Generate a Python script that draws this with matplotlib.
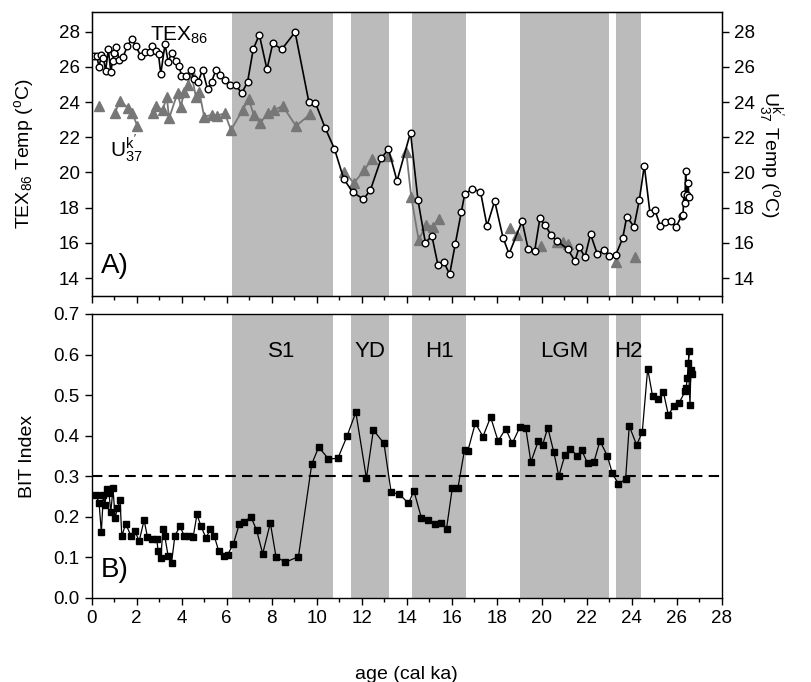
import numpy as np
import matplotlib
matplotlib.use("Agg")
import matplotlib.pyplot as plt
from matplotlib.ticker import MultipleLocator

plt.rcParams['font.family'] = ['Liberation Sans', 'DejaVu Sans']
plt.rcParams['mathtext.fontset'] = 'custom'
plt.rcParams['mathtext.rm'] = 'Liberation Sans'
plt.rcParams['mathtext.it'] = 'Liberation Sans'

# TEX86 temperature (age ka, degC)
tex_age = [0.10, 0.22, 0.33, 0.43, 0.52, 0.62, 0.74, 0.85, 0.93, 0.99, 1.10, 1.22, 1.39, 1.59,
           1.78, 1.96, 2.18, 2.37, 2.58, 2.70, 2.85, 2.97, 3.07, 3.26, 3.40, 3.55, 3.74, 3.89,
           3.99, 4.19, 4.41, 4.56, 4.73, 4.93, 5.15, 5.33, 5.52, 5.71, 5.92, 6.16, 6.41, 6.67,
           6.93, 7.18, 7.45, 7.79, 8.05, 8.45, 9.04, 9.65, 9.94, 10.37, 10.79, 11.21, 11.61,
           12.08, 12.39, 12.87, 13.19, 13.57, 14.17, 14.50, 14.83, 15.12, 15.39, 15.64, 15.91,
           16.16, 16.43, 16.58, 16.91, 17.28, 17.57, 17.91, 18.28, 18.55, 19.13, 19.40, 19.69,
           19.92, 20.14, 20.41, 20.66, 21.15, 21.48, 21.67, 21.92, 22.17, 22.47, 22.78, 23.00,
           23.29, 23.60, 23.78, 24.10, 24.34, 24.56, 24.81, 25.03, 25.27, 25.50, 25.73, 25.97,
           26.22, 26.28, 26.32, 26.36, 26.40, 26.46, 26.50, 26.55]
tex_temp = [26.62, 26.62, 26.01, 26.68, 26.51, 25.78, 27.00, 25.71, 26.35, 26.77, 27.11, 26.39,
            26.55, 27.19, 27.57, 27.19, 26.62, 26.86, 26.86, 27.19, 26.90, 26.72, 25.60, 27.30,
            26.28, 26.77, 26.35, 26.05, 25.48, 25.48, 25.82, 25.30, 25.16, 25.82, 24.73, 25.16,
            25.82, 25.54, 25.26, 24.97, 24.95, 24.50, 25.16, 27.00, 27.83, 25.86, 27.34, 27.00,
            27.98, 24.02, 23.97, 22.55, 21.34, 19.61, 18.87, 18.48, 19.01, 20.81, 21.32, 19.52,
            22.27, 18.44, 16.01, 16.39, 14.74, 14.93, 14.22, 15.94, 17.77, 18.78, 19.05, 18.91,
            16.96, 18.38, 16.30, 15.37, 17.24, 15.63, 15.56, 17.40, 17.02, 16.47, 16.13, 15.65,
            14.97, 15.78, 15.18, 16.49, 15.37, 15.60, 15.26, 15.31, 16.26, 17.49, 16.92, 18.44,
            20.39, 17.72, 17.87, 16.96, 17.20, 17.24, 16.90, 17.55, 17.60, 18.75, 18.25, 20.10,
            18.70, 19.40, 18.60]

# UK'37 temperature (age ka, degC)
uk_age = [0.33, 1.04, 1.25, 1.63, 1.81, 2.03, 2.73, 2.85, 3.15, 3.34, 3.44, 3.82, 3.96, 4.11,
          4.26, 4.41, 4.63, 4.78, 5.00, 5.33, 5.57, 5.92, 6.19, 6.71, 6.98, 7.20, 7.49, 7.82,
          8.12, 8.49, 9.08, 9.71, 11.23, 11.65, 12.12, 12.45, 13.19, 13.98, 14.20, 14.53,
          14.87, 15.17, 15.42, 18.58, 18.91, 19.95, 20.66, 20.93, 21.18, 23.30, 24.15]
uk_temp = [23.78, 23.40, 24.08, 23.65, 23.36, 22.64, 23.36, 23.78, 23.55, 24.27, 23.08, 24.53,
           23.74, 24.59, 24.97, 25.73, 24.31, 24.59, 23.17, 23.27, 23.23, 23.36, 22.41, 23.55,
           24.19, 23.27, 22.80, 23.36, 23.55, 23.78, 22.64, 23.31, 20.05, 19.39, 20.14, 20.77,
           20.95, 21.18, 18.63, 16.17, 17.02, 16.92, 17.34, 16.83, 16.45, 15.84, 16.07, 16.05,
           15.92, 14.93, 15.22]

# BIT index
bit_age = [0.18, 0.33, 0.43, 0.52, 0.59, 0.67, 0.77, 0.85, 0.95, 1.04, 1.14, 1.26, 1.34, 1.51,
           1.74, 1.93, 2.11, 2.33, 2.48, 2.70, 2.89, 2.95, 3.07, 3.17, 3.25, 3.40, 3.55, 3.70,
           3.93, 4.11, 4.33, 4.51, 4.68, 4.85, 5.08, 5.27, 5.45, 5.64, 5.86, 6.04, 6.29, 6.56,
           6.78, 7.08, 7.33, 7.60, 7.94, 8.19, 8.61, 9.19, 9.78, 10.09, 10.52, 10.94, 11.35,
           11.74, 12.21, 12.52, 12.99, 13.31, 13.68, 14.08, 14.32, 14.65, 14.95, 15.24, 15.51,
           15.77, 16.03, 16.28, 16.57, 16.72, 17.05, 17.39, 17.73, 18.06, 18.40, 18.69, 19.03,
           19.29, 19.52, 19.85, 20.04, 20.27, 20.54, 20.76, 21.03, 21.28, 21.59, 21.77, 22.04,
           22.32, 22.59, 22.92, 23.14, 23.41, 23.73, 23.89, 24.22, 24.47, 24.71, 24.93, 25.19,
           25.41, 25.63, 25.88, 26.10, 26.37, 26.42, 26.47, 26.55, 26.52, 26.59, 26.63, 26.66]
bit_val = [0.255, 0.233, 0.162, 0.255, 0.230, 0.268, 0.258, 0.212, 0.270, 0.196, 0.221, 0.241,
           0.152, 0.183, 0.154, 0.164, 0.140, 0.192, 0.150, 0.146, 0.146, 0.117, 0.098, 0.169,
           0.152, 0.103, 0.087, 0.154, 0.177, 0.153, 0.152, 0.150, 0.206, 0.178, 0.148, 0.169,
           0.152, 0.117, 0.103, 0.107, 0.132, 0.182, 0.188, 0.200, 0.167, 0.109, 0.185, 0.102,
           0.088, 0.102, 0.330, 0.372, 0.343, 0.344, 0.399, 0.458, 0.295, 0.414, 0.381, 0.260,
           0.256, 0.233, 0.264, 0.198, 0.193, 0.182, 0.185, 0.171, 0.272, 0.272, 0.365, 0.363,
           0.431, 0.398, 0.446, 0.387, 0.417, 0.381, 0.421, 0.419, 0.335, 0.387, 0.377, 0.420,
           0.359, 0.300, 0.352, 0.367, 0.350, 0.365, 0.332, 0.335, 0.387, 0.350, 0.307, 0.281,
           0.293, 0.424, 0.377, 0.409, 0.565, 0.497, 0.491, 0.507, 0.451, 0.474, 0.480, 0.509,
           0.518, 0.542, 0.610, 0.578, 0.476, 0.561, 0.553]

# climate events (start, end, label)
ev_start = [6.22, 11.52, 14.25, 19.04, 23.30]
ev_end = [10.71, 13.23, 16.64, 23.00, 24.40]
ev_label = ["S1", "YD", "H1", "LGM", "H2"]

shade = "#bbbbbb"

fig = plt.figure(figsize=(8.12, 6.82), dpi=100)
ax1 = fig.add_axes([0.1129, 0.566, 0.7759, 0.4164])
ax2 = fig.add_axes([0.1129, 0.1232, 0.7759, 0.4164])

for a in (ax1, ax2):
    for s, e in zip(ev_start, ev_end):
        a.axvspan(s, e, color=shade, lw=0, zorder=0)
    a.set_xlim(0, 28)
    a.xaxis.set_major_locator(MultipleLocator(2))
    a.xaxis.set_minor_locator(MultipleLocator(1))
    a.tick_params(direction='out', labelsize=13.5, length=5, width=1)
    a.tick_params(which='minor', direction='out', length=3, width=1)
    for sp in a.spines.values():
        sp.set_linewidth(1)

# UK37: break the line where gaps are large
uk_a = np.array(uk_age)
uk_t = np.array(uk_temp)
xs, ys = [uk_a[0]], [uk_t[0]]
for i in range(1, len(uk_a)):
    if uk_a[i] - uk_a[i - 1] > 0.65:
        xs.append(np.nan)
        ys.append(np.nan)
    xs.append(uk_a[i])
    ys.append(uk_t[i])
ax1.plot(xs, ys, color="#777777", lw=1.3, zorder=2)
ax1.plot(uk_a, uk_t, '^', color="#777777", ms=7, mec="#777777", zorder=2)

ax1.plot(tex_age, tex_temp, '-', color='black', lw=1.2, zorder=3)
ax1.plot(tex_age, tex_temp, 'o', mfc='white', mec='black', ms=4.8, mew=1, zorder=4)

ax1.set_ylim(12.98, 29.12)
ax1.yaxis.set_major_locator(MultipleLocator(2))
ax1.tick_params(axis='x', which='both', labelbottom=False)
ax1.set_ylabel("TEX$_{86}$ Temp ($^o$C)", fontsize=14)
ax1.yaxis.set_label_coords(-0.088, 0.5)

ax1r = ax1.twinx()
ax1r.set_ylim(ax1.get_ylim())
ax1r.yaxis.set_major_locator(MultipleLocator(2))
ax1r.tick_params(direction='out', labelsize=13.5, length=5, width=1)
ax1r.set_ylabel("U$^{k'}_{37}$ Temp ($^o$C)", fontsize=14, rotation=270, labelpad=22)

ax1.text(2.6, 27.5, "TEX$_{86}$", fontsize=15, ha='left', va='baseline')
ax1.text(0.8, 20.9, "U$^{k'}_{37}$", fontsize=15, ha='left', va='baseline')
ax1.text(0.4, 14.7, "A)", fontsize=20, ha='left', va='center')

ax2.plot(bit_age, bit_val, '-', color='black', lw=0.9, zorder=3)
ax2.plot(bit_age, bit_val, 's', color='black', ms=3.8, zorder=4)
ax2.axhline(0.3, color='black', ls=(0, (5, 3)), lw=1.5, zorder=2)
ax2.set_ylim(0, 0.7)
ax2.yaxis.set_major_locator(MultipleLocator(0.1))
ax2.yaxis.set_major_formatter(plt.FormatStrFormatter('%.1f'))
ax2.set_ylabel("BIT Index", fontsize=14)
ax2.yaxis.set_label_coords(-0.088, 0.5)
ax2.set_xlabel("age (cal ka)", fontsize=14, labelpad=28)

for s, e, lab in zip(ev_start, ev_end, ev_label):
    ax2.text((s + e) / 2, 0.607, lab, fontsize=16, ha='center', va='center')
ax2.text(0.4, 0.068, "B)", fontsize=20, ha='left', va='center')

fig.savefig("out.png", dpi=100)
